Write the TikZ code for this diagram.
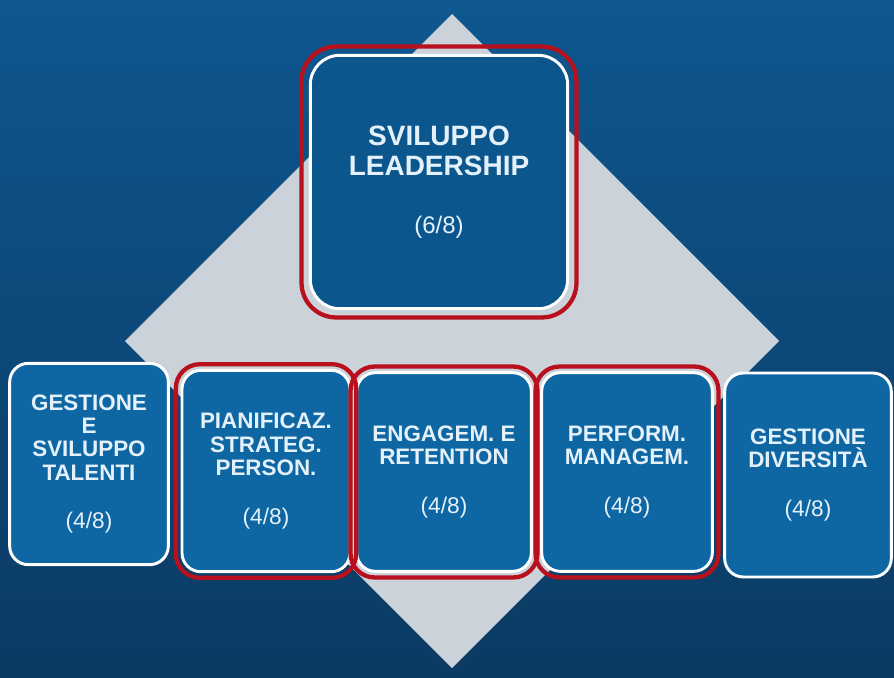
\documentclass[tikz,border=0pt]{standalone}
\usepackage{fontspec}
\setmainfont{Liberation Sans}
\usepackage{tikz}
\usetikzlibrary{fit}
\definecolor{navytop}{HTML}{0E5790}
\definecolor{navybot}{HTML}{0B3A62}
\definecolor{cardblue}{HTML}{0E67A3}
\definecolor{leadblue}{HTML}{0C568E}
\definecolor{diamondgrey}{HTML}{CCD2DA}
\definecolor{ringred}{HTML}{B8101C}
\definecolor{cardtext}{HTML}{E4F1FB}
\newcommand{\scoretxt}[1]{{\mdseries\fontsize{17}{17}\selectfont(#1)}}
\tikzset{
    card/.style = {draw=white, fill=cardblue, line width=2.2pt, rectangle, rounded corners=14pt, align=center, text=cardtext, font=\fontsize{16.8}{17.5}\selectfont\bfseries, minimum width=126pt, minimum height=151pt},
    lead-card/.style = {card, fill=leadblue, rounded corners=22pt, font=\fontsize{21}{22.5}\selectfont\bfseries},
    red-ring/.style = {draw=ringred, line width=3.2pt, rectangle, rounded corners=18pt, inner sep=3.5pt},
}

\begin{document}
\begin{tikzpicture}[x=0.75pt, y=-0.75pt]
\shade[top color=navytop, bottom color=navybot] (0,0) rectangle (894,678);
\useasboundingbox (0,0) rectangle (894,678);
\fill[diamondgrey] (452,14) -- (779,341) -- (452,668) -- (125,341) -- cycle;

\node[lead-card, minimum width=193pt, minimum height=190pt] (leader) at (439,182) {SVILUPPO\\LEADERSHIP\\[21pt]{\mdseries\fontsize{18}{18}\selectfont(6/8)}};
\node[card, minimum width=119pt] (talenti) at (89,464) {GESTIONE\\E\\SVILUPPO\\TALENTI\\[19pt]\scoretxt{4/8}};
\node[card] (plan) at (266,471) {PIANIFICAZ.\\STRATEG.\\PERSON.\\[19pt]\scoretxt{4/8}};
\node[card, minimum width=131pt, minimum height=149pt] (engage) at (444,472) {ENGAGEM. E\\RETENTION\\[19pt]\scoretxt{4/8}};
\node[card, minimum width=128pt, minimum height=149pt] (perform) at (627,472) {PERFORM.\\MANAGEM.\\[19pt]\scoretxt{4/8}};
\node[card, minimum width=125pt, minimum height=153pt] (diversity) at (808,475) {GESTIONE\\DIVERSITÀ\\[19pt]\scoretxt{4/8}};

\node[red-ring, inner sep=5.5pt, rounded corners=26pt, fit=(leader)] (leader-ring) {};
\node[red-ring, fit=(plan)] (plan-ring) {};
\node[red-ring, fit=(engage)] (engage-ring) {};
\node[red-ring, fit=(perform)] (perform-ring) {};
\end{tikzpicture}
\end{document}
